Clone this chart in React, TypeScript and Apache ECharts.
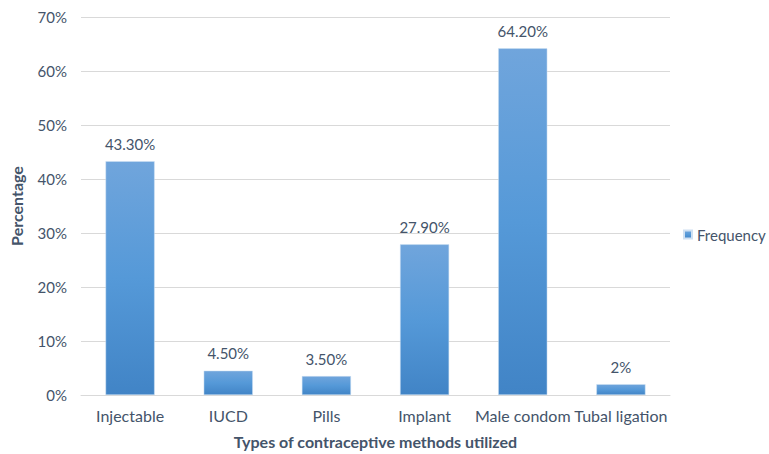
import React, { useEffect, useRef } from "react";
import * as echarts from "echarts";

const categories = ["Injectable", "IUCD", "Pills", "Implant", "Male condom", "Tubal ligation"];
const frequency = [43.3, 4.5, 3.5, 27.9, 64.2, 2];
const valueLabels = ["43.30%", "4.50%", "3.50%", "27.90%", "64.20%", "2%"];

const textColor = "#44546a";
const font = "Lato, 'Open Sans', sans-serif";

export default function App() {
  const ref = useRef<HTMLDivElement>(null);
  useEffect(() => {
    if (!ref.current) return;
    const chart = echarts.init(ref.current, null, { renderer: "svg" });
    chart.setOption({
      animation: false,
      grid: { left: 79, right: 99, top: 17, bottom: 59 },
      legend: {
        left: 678,
        top: 222,
        orient: "vertical",
        itemWidth: 8,
        itemHeight: 8,
        itemGap: 6,
        icon: "rect",
        textStyle: { color: textColor, fontSize: 15, fontFamily: font },
        data: ["Frequency"],
      },
      xAxis: {
        type: "category",
        data: categories,
        name: "Types of contraceptive methods utilized",
        nameLocation: "middle",
        nameGap: 38,
        nameTextStyle: { color: textColor, fontSize: 16, fontWeight: "bold", fontFamily: font },
        axisLine: { lineStyle: { color: "#d9d9d9" } },
        axisTick: { show: false },
        axisLabel: { color: textColor, fontSize: 16, fontFamily: font, margin: 12, interval: 0 },
      },
      yAxis: {
        type: "value",
        min: 0,
        max: 70,
        interval: 10,
        name: "Percentage",
        nameLocation: "middle",
        nameGap: 57,
        nameTextStyle: { color: textColor, fontSize: 16, fontWeight: "bold", fontFamily: font },
        axisLine: { show: false },
        axisTick: { show: false },
        splitLine: { lineStyle: { color: "#d9d9d9" } },
        axisLabel: { color: textColor, fontSize: 15, fontFamily: font, margin: 14, formatter: "{value}%" },
      },
      series: [
        {
          name: "Frequency",
          type: "bar",
          data: frequency,
          barWidth: "50%",
          itemStyle: {
            color: new echarts.graphic.LinearGradient(0, 0, 0, 1, [
              { offset: 0, color: "#70a5dc" },
              { offset: 0.5, color: "#5599d8" },
              { offset: 1, color: "#4184c6" },
            ]),
            borderColor: "#cfe0f2",
            borderWidth: 0.5,
          },
          label: {
            show: true,
            position: "top",
            distance: 10,
            color: textColor,
            fontSize: 15,
            fontFamily: font,
            formatter: (p: any) => valueLabels[p.dataIndex],
          },
        },
      ],
    });
    return () => chart.dispose();
  }, []);
  return <div ref={ref} style={{ width: 769, height: 454, position: "absolute", left: 0, top: 0 }} />;
}
